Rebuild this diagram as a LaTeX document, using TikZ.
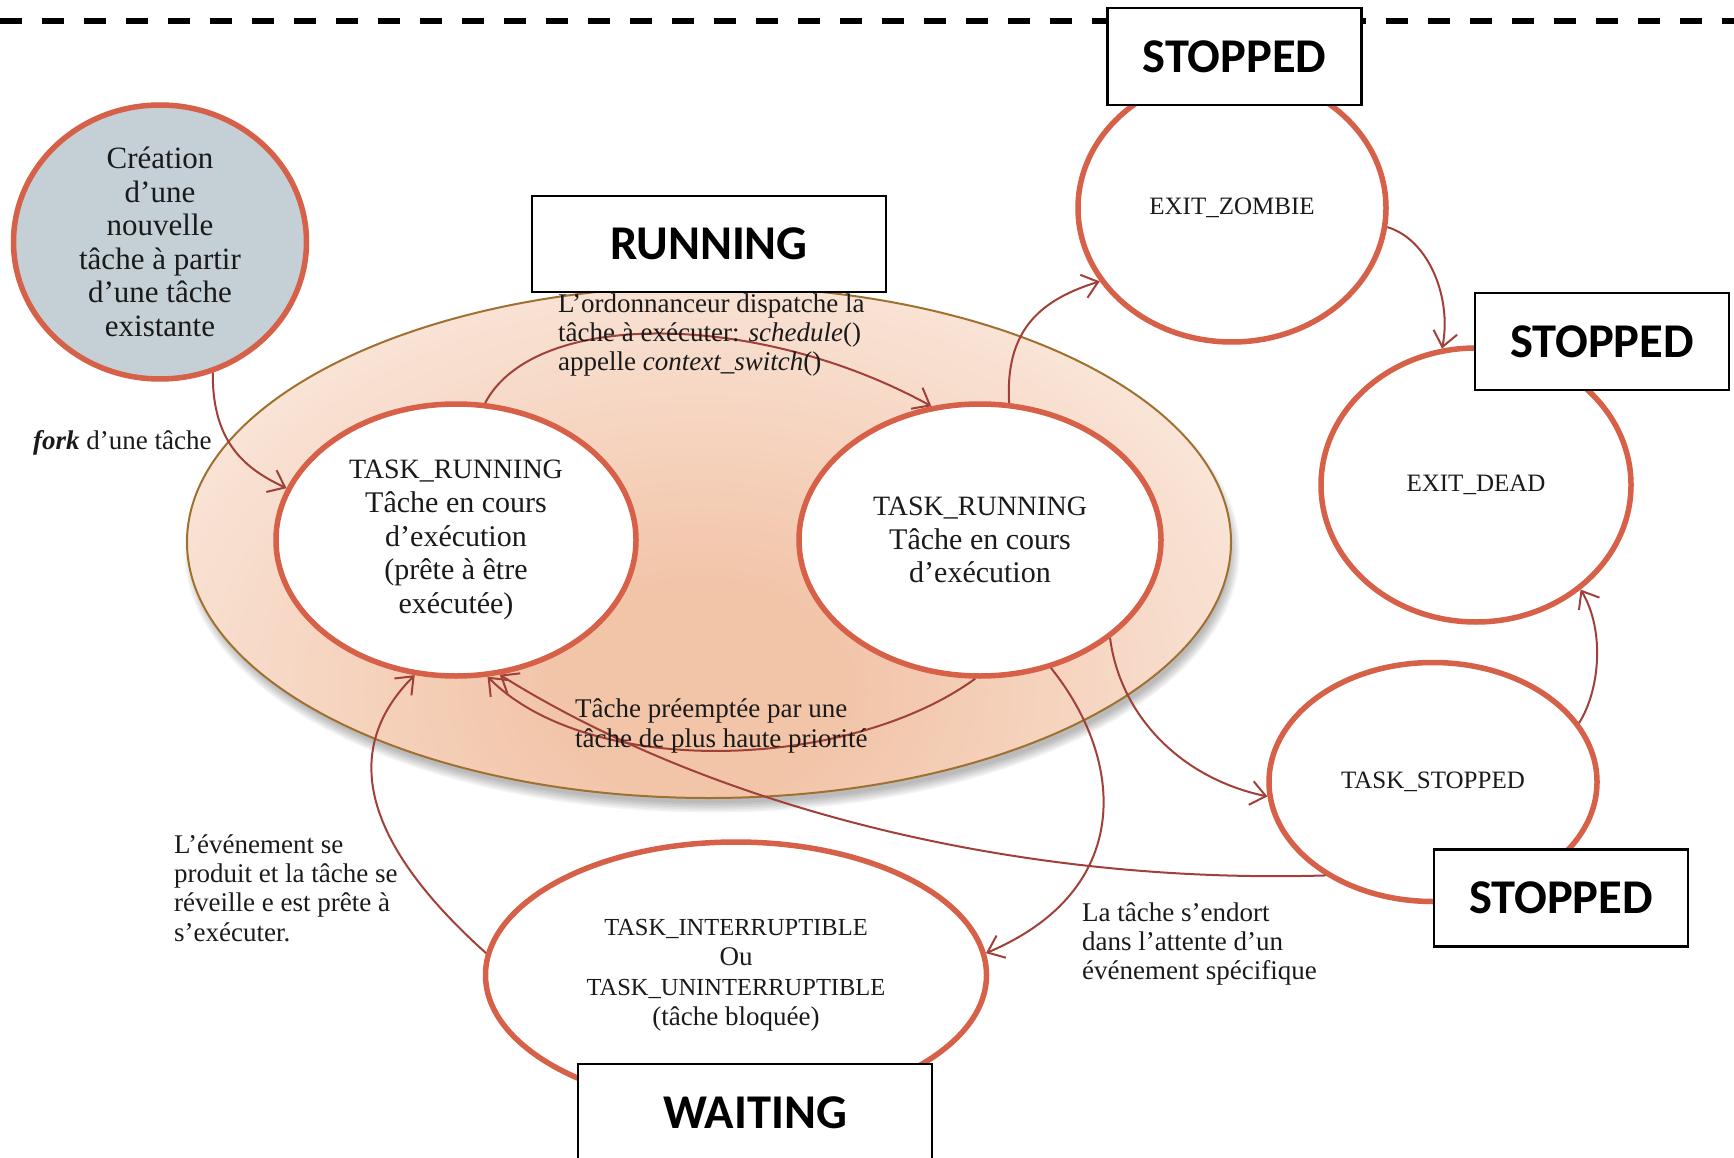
\documentclass[tikz,border=0pt]{standalone}
\usepackage{fontspec}
\setmainfont{Liberation Serif}
\newfontfamily\lblfont{Carlito}
\usetikzlibrary{shapes.geometric,arrows.meta}

\definecolor{stateline}{RGB}{214,96,72}
\definecolor{arrowred}{RGB}{160,64,56}
\definecolor{ringline}{RGB}{160,112,48}
\definecolor{peachlight}{RGB}{251,237,228}
\definecolor{peachdark}{RGB}{242,196,168}
\definecolor{forkfill}{RGB}{196,207,214}
\definecolor{ink}{RGB}{26,26,26}

% smaller size for the all-capitals state names
\newcommand\capsline[1]{{\fontsize{28}{33.6}\selectfont #1}}
\newcommand\capswait[1]{{\fontsize{24.5}{30}\selectfont #1}}

\begin{document}
\begin{tikzpicture}[x=1pt,y=-1pt,
  state/.style={ellipse, draw=stateline, line width=5.5pt, fill=white, inner sep=0pt, text=ink, align=center},
  bigtext/.style={font=\fontsize{30}{33.6}\selectfont},
  smalltext/.style={font=\fontsize{25}{29}\selectfont},
  waittext/.style={font=\fontsize{27}{30}\selectfont},
  tag/.style={draw=black, line width=2.5pt, fill=white, minimum width=254pt, minimum height=97pt, inner sep=0pt, font=\lblfont\bfseries\fontsize{48.5}{50}\selectfont},
  widetag/.style={tag, minimum width=354pt},
  flow/.style={draw=arrowred, line width=2pt, -{Straight Barb[length=15pt,width=24pt,line width=2pt]}},
  note/.style={align=left, text=ink, inner sep=0pt, anchor=west, font=\fontsize{27}{29.3}\selectfont},
]
\useasboundingbox (0,0) rectangle (1734,1158);
\clip (0,0) rectangle (1734,1158);

% boundary line at the top
\draw[line width=5.5pt, dash pattern=on 22pt off 20pt] (0,21) -- (1734,21);

% soft shadow under the RUNNING ring
\foreach \k in {0,...,6}
  \fill[black, opacity=0.045] (712,551) ellipse [x radius={518+\k*1.6}, y radius={252+\k*1.6}];

% RUNNING ring with its peach gradient
\begin{scope}
  \clip (709,542) ellipse [x radius=522, y radius=256];
  \fill[peachlight] (709,542) ellipse [x radius=522, y radius=256];
  \foreach \i in {0,...,60}{
    \pgfmathsetmacro\s{1-\i/60}
    \pgfmathsetmacro\pct{min(100,125*\i/60)}
    \fill[peachdark!\pct!peachlight] (700,690) ellipse [x radius={720*\s}, y radius={520*\s}];
  }
\end{scope}
\draw[ringline, line width=2pt] (709,542) ellipse [x radius=522, y radius=256];

% states
\node[state, fill=forkfill, minimum width=293pt, minimum height=274pt] (cre) at (160,242) {};
\node[align=center, text=ink, inner sep=0pt, font=\fontsize{31}{33.5}\selectfont] (cretext) at (cre.center)
  {Création\\d’une\\nouvelle\\tâche à partir\\d’une tâche\\existante};
\node[state, bigtext, minimum width=360pt, minimum height=272pt] (tr1) at (456,540)
  {\capsline{TASK\_RUNNING}\\Tâche en cours\\d’exécution\\(prête à être\\exécutée)};
\node[state, bigtext, minimum width=362pt, minimum height=272pt] (tr2) at (980,540)
  {\capsline{TASK\_RUNNING}\\Tâche en cours\\d’exécution};
\node[state, smalltext, minimum width=308pt, minimum height=268pt] (zombie) at (1232,208) {EXIT\_ZOMBIE};
\node[state, smalltext, minimum width=310pt, minimum height=274pt] (dead) at (1476,485) {EXIT\_DEAD};
\node[state, smalltext, minimum width=328pt, minimum height=239pt] (tstop) at (1433,782) {TASK\_STOPPED};
\node[state, waittext, minimum width=501pt, minimum height=266pt] (wait) at (736,975)
  {\capswait{TASK\_INTERRUPTIBLE}\\Ou\\\capswait{TASK\_UNINTERRUPTIBLE}\\(tâche bloquée)};

% transitions
\draw[flow] (cre.-68) .. controls (212,445) and (248,470) .. (tr1.163);
\draw[flow] (tr1.78) .. controls (535,308) and (760,312) .. (tr2.110);
\draw[flow] (tr2.-92) .. controls (850,770) and (590,780) .. (tr1.-77);
\draw[flow] (tstop.221) .. controls (1000,885) and (700,800) .. (tr1.-72);
\draw[flow] (wait.175) .. controls (380,858) and (330,760) .. (tr1.-107);
\draw[flow] (tr2.-61) .. controls (1125,760) and (1135,890) .. (wait.5);
\draw[flow] (tr2.-37) .. controls (1120,715) and (1180,778) .. (tstop.185);
\draw[flow] (tr2.78) .. controls (1005,330) and (1040,300) .. (zombie.209);
\draw[flow] (zombie.-7) .. controls (1430,240) and (1452,300) .. (dead.104);
\draw[flow] (tstop.22) .. controls (1600,690) and (1605,630) .. (dead.-45);

% transition notes
\node[note] (nsched) at (558,335)
  {L’ordonnanceur dispatche la\\tâche à exécuter: \textit{schedule}()\\appelle \textit{context\_switch}()};
\node[note] (npreempt) at (575,726)
  {Tâche préemptée par une\\tâche de plus haute priorité};
\node[note] (nfork) at (33,443) {\textbf{\textit{fork}} d’une tâche};
\node[note] (nwake) at (174,888)
  {L’événement se\\produit et la tâche se\\réveille e est prête à\\s’exécuter.};
\node[note] (nsleep) at (1082,944)
  {La tâche s’endort\\dans l’attente d’un\\événement spécifique};

% group labels
\node[tag] (gstop1) at (1234.5,56.5) {STOPPED};
\node[widetag, minimum height=96pt] (grun) at (709,244) {RUNNING};
\node[tag] (gstop2) at (1602,341.5) {STOPPED};
\node[tag] (gstop3) at (1561,898) {STOPPED};
\node[widetag] (gwait) at (755,1112.5) {WAITING};
\end{tikzpicture}
\end{document}
